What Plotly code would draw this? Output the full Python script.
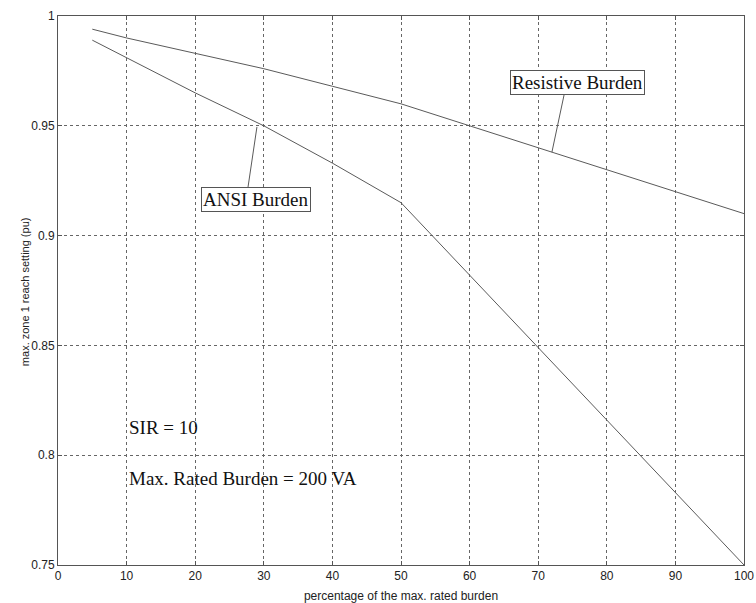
import plotly.graph_objects as go

# Data
burden_pct = [5, 10, 20, 30, 40, 50, 60, 70, 80, 90, 100]
resistive = [0.994, 0.990, 0.983, 0.976, 0.968, 0.960, 0.950, 0.940, 0.930, 0.920, 0.910]
ansi = [0.989, 0.981, 0.965, 0.950, 0.933, 0.915, 0.882, 0.849, 0.816, 0.783, 0.750]

x_ticks = [0, 10, 20, 30, 40, 50, 60, 70, 80, 90, 100]
y_ticks = [0.75, 0.8, 0.85, 0.9, 0.95, 1.0]
y_tick_text = ["0.75", "0.8", "0.85", "0.9", "0.95", "1"]

line_color = "#5a5a5a"
serif = "Liberation Serif, Times New Roman, serif"
sans = "Liberation Sans, Arial, sans-serif"

fig = go.Figure()
fig.add_trace(go.Scatter(x=burden_pct, y=resistive, mode="lines",
                         line=dict(color=line_color, width=1), name="Resistive Burden",
                         showlegend=False))
fig.add_trace(go.Scatter(x=burden_pct, y=ansi, mode="lines",
                         line=dict(color=line_color, width=1), name="ANSI Burden",
                         showlegend=False))

axis_common = dict(
    showline=True, linecolor="#555", linewidth=1, mirror="ticks",
    ticks="inside", ticklen=4, tickcolor="#555",
    showgrid=True, gridcolor="#666", griddash="dot", gridwidth=1,
    zeroline=False, tickfont=dict(family=sans, size=12, color="#222"),
    automargin=False,
)

fig.update_xaxes(range=[0, 100], tickvals=x_ticks, **axis_common,
                 title=dict(text="percentage of the max. rated burden",
                            font=dict(family=sans, size=12, color="#222")))
fig.update_yaxes(range=[0.75, 1.0], tickvals=y_ticks, ticktext=y_tick_text, **axis_common)

# y-axis title placed as rotated text
fig.add_annotation(xref="paper", yref="paper", x=0, y=0.497, xshift=-41,
                   text="max. zone 1 reach setting (pu)", textangle=-90,
                   showarrow=False, font=dict(family=sans, size=11, color="#222"))

# leader lines
fig.add_shape(type="line", x0=27.7, y0=0.9221, x1=29.0, y1=0.9495,
              line=dict(color=line_color, width=1))
fig.add_shape(type="line", x0=73.8, y0=0.9645, x1=72.0, y1=0.938,
              line=dict(color=line_color, width=1))

box_font = dict(family=serif, size=19, color="#111")
fig.add_annotation(x=28.8, y=0.9164, text="ANSI Burden", showarrow=False,
                   font=box_font, bordercolor="#555", borderwidth=1, borderpad=1,
                   bgcolor="white")
fig.add_annotation(x=75.7, y=0.9695, text="Resistive Burden", showarrow=False,
                   font=box_font, bordercolor="#555", borderwidth=1, borderpad=1,
                   bgcolor="white")
fig.add_annotation(x=10, y=0.8126, text="SIR = 10", showarrow=False,
                   xanchor="left", font=box_font)
fig.add_annotation(x=10, y=0.7896, text="Max. Rated Burden = 200 VA", showarrow=False,
                   xanchor="left", font=box_font)

fig.update_layout(
    width=756, height=603,
    margin=dict(l=58, r=12, t=16, b=38),
    plot_bgcolor="white", paper_bgcolor="white",
    showlegend=False,
)

fig.write_html("out.html", config={"displayModeBar": False},
               post_script="document.body.style.margin='0';document.body.style.overflow='hidden';")
